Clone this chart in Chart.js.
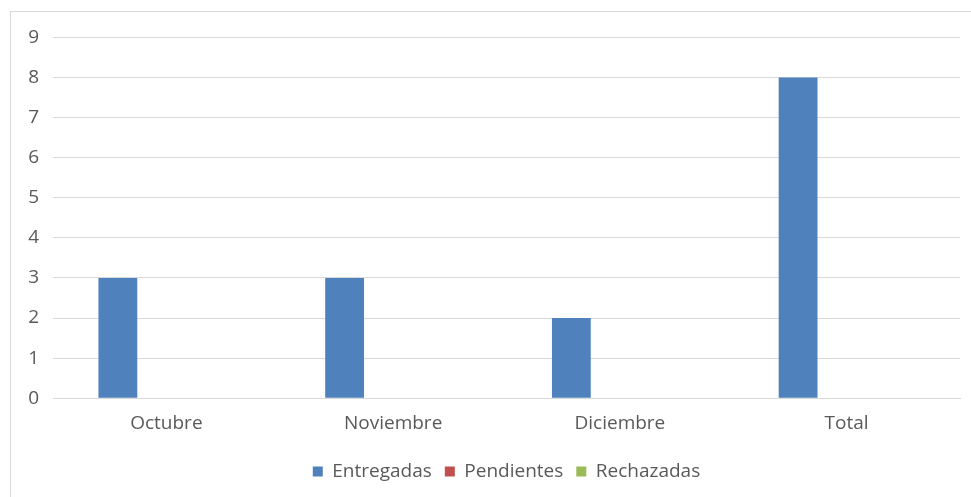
<!DOCTYPE html>
<html>
<head>
<meta charset="utf-8">
<script src="https://cdn.jsdelivr.net/npm/chart.js@4.4.0/dist/chart.umd.min.js"></script>
<style>
    body { margin: 0; background: #fff; }
    #box {
        position: absolute;
        left: 10px; top: 11px;
        width: 965px; height: 490px;
        border: 1px solid #d9d9d9;
        box-sizing: border-box;
    }
</style>
</head>
<body>
<div id="box"><canvas id="chart"></canvas></div>
<script>
const categories = ['Octubre', 'Noviembre', 'Diciembre', 'Total'];
const entregadas = [3, 3, 2, 8];
const pendientes = [0, 0, 0, 0];
const rechazadas = [0, 0, 0, 0];

// centre the legend under the plot area instead of the whole canvas
const legendUnderPlot = {
    id: 'legendUnderPlot',
    afterLayout: function (chart) {
        const lg = chart.legend;
        const shift = (chart.chartArea.left + chart.chartArea.right) / 2 - (lg.left + lg.right) / 2;
        lg.left += shift;
        lg.right += shift;
    }
};

function load_chart(id) {
    const ctx = document.getElementById(id);
    const data = {
        labels: categories,
        datasets: [
            {
                label: 'Entregadas',
                data: entregadas,
                backgroundColor: '#4F81BD',
            },
            {
                label: 'Pendientes',
                data: pendientes,
                backgroundColor: '#C0504D',
            },
            {
                label: 'Rechazadas',
                data: rechazadas,
                backgroundColor: '#9BBB59',
            }
        ]
    };
    const font = { family: 'Open Sans', size: 19 };
    const config = {
        type: 'bar',
        data: data,
        options: {
            responsive: true,
            maintainAspectRatio: false,
            animation: false,
            categoryPercentage: 0.642,
            barPercentage: 0.8,
            layout: { padding: { top: 10, right: 14, bottom: 9, left: 0 } },
            plugins: {
                legend: {
                    position: 'bottom',
                    labels: {
                        boxWidth: 10,
                        boxHeight: 10,
                        padding: 13,
                        color: '#595959',
                        font: font
                    }
                },
                tooltip: { enabled: false }
            },
            scales: {
                x: {
                    grid: { display: false, drawTicks: false },
                    border: { color: '#d9d9d9' },
                    ticks: {
                        color: '#595959',
                        padding: 14,
                        font: font
                    }
                },
                y: {
                    min: 0,
                    max: 9,
                    ticks: {
                        stepSize: 1,
                        color: '#595959',
                        padding: 14,
                        font: font
                    },
                    grid: { color: '#d9d9d9', drawTicks: false },
                    border: { display: false },
                    afterFit: function (scale) {
                        scale.width = 42;
                    }
                }
            }
        },
        plugins: [legendUnderPlot]
    };
    _ = new Chart(ctx, config);
}

load_chart('chart');
</script>
</body>
</html>
